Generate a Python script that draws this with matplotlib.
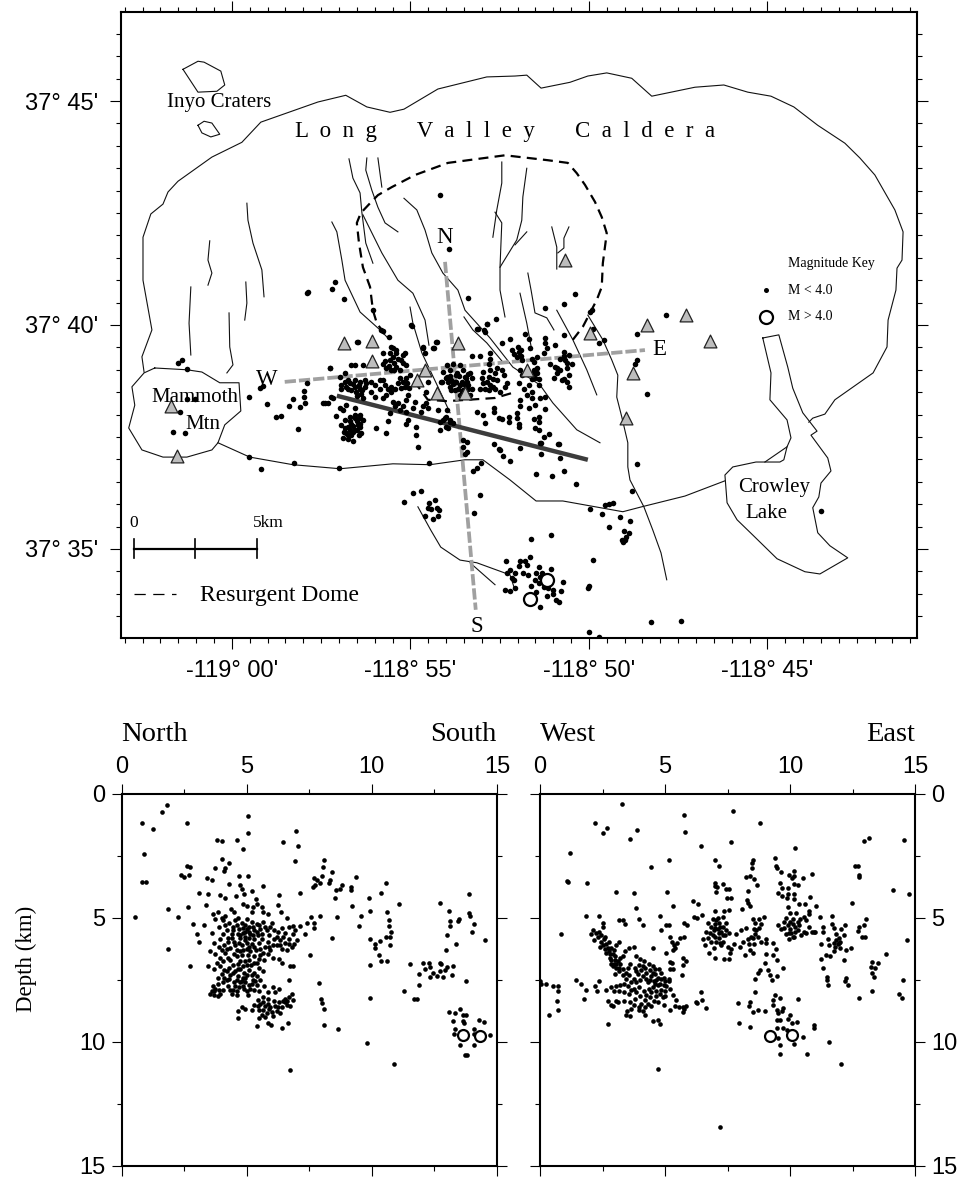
import numpy as np
import matplotlib
matplotlib.use("Agg")
import matplotlib.pyplot as plt
from matplotlib.ticker import MultipleLocator

# map units are minutes: x = minutes east of -119 deg, y = minutes north of 37 deg
SERIF = "Liberation Serif"
SANS = "Liberation Sans"

caldera = [(-2.46,38.95),(-2.52,39.29),(-2.24,39.89),(-2.49,41.0),(-2.49,41.96),(-2.27,42.48),(-1.93,42.7),(-1.79,42.97),
    (-1.51,43.21),(-.56,43.75),(.28,44.08),(.81,44.53),(2.41,44.98),(3.19,45.13),(3.78,44.87),(4.43,44.75),(4.82,44.82),
    (5.77,45.27),(7.14,45.54),(7.93,45.56),(8.26,45.58),(8.66,45.29),(9.47,45.42),(9.97,45.56),(10.5,45.63),(11.2,45.51),
    (11.76,45.11),(12.97,45.31),(13.78,45.36),(14.45,45.2),(15.1,45.11),(15.74,44.87),(16.41,44.46),(17.17,44.06),
    (17.59,43.73),(18.01,43.35),(18.57,42.57),(18.8,42.08),(18.77,41.45),(18.63,41.27),(18.6,40.78),(18.38,40.11),
    (18.35,39.51),(17.96,38.93),(16.89,38.33),(16.61,38.01),(16.27,37.92),(16.16,37.83)]
caldera_south = [(-.39,37.37),(.5,37.05),(1.71,36.88),(3.03,36.79),(4.51,36.9),(5.55,36.88),(6.53,36.99),(7.03,36.99),
    (7.79,36.54),(8.52,36.07),(9.27,36.07),(10.95,35.83),(11.48,35.94),(12.69,36.18),(13.81,36.52)]
lake = [(14.87,39.71),(15.32,39.78),(15.57,39.06),(15.71,38.59),(15.99,38.04),(16.39,37.63),(16.22,37.54),(16.69,37.03),
    (16.78,36.74),(16.5,36.47),(16.44,36.16),(16.27,35.92),(16.41,35.36),(16.75,35.07),(17.25,34.8),(16.47,34.44),
    (16.05,34.49),(15.27,34.78),(14.59,35.31),(14.15,35.65),(13.87,36.03),(13.81,36.65),(14.03,36.83),(14.68,36.94),
    (15.35,36.94),(15.46,36.99),(15.55,37.28),(15.66,37.48),(15.55,37.88),(15.07,38.33),(15.1,38.93),(14.87,39.71)]
lake_spur = [(14.93,36.94),(15.55,37.28)]
mammoth = [(-2.16,39.04),(-1.26,39.0),(-.84,38.95),(-.34,38.71),(.2,38.71),(.25,38.08),(-.2,37.77),(-.39,37.37),(-.56,37.21),
    (-1.26,37.05),(-1.93,37.05),(-2.52,37.21),(-2.89,37.7),(-2.72,38.21),(-2.8,38.62),(-2.46,38.93),(-2.16,39.04)]
inyo_big = [(-1.37,45.71),(-.95,45.89),(-.78,45.87),(-.31,45.67),(-.2,45.36),(-.42,45.22),(-.95,45.2),(-1.37,45.71)]
inyo_small = [(-.95,44.46),(-.78,44.55),(-.56,44.51),(-.34,44.26),(-.59,44.2),(-.84,44.29),(-.95,44.46)]

dome_north = [(9.55,39.67),(9.83,39.96),(10.22,40.56),(10.36,40.85),(10.39,41.38),(10.5,42.05),(10.36,42.41),(10.17,42.75),
    (9.89,43.13),(9.66,43.39),(9.41,43.62),(8.85,43.68),(7.65,43.79),(6.05,43.62),(5.13,43.35),(4.48,43.08),(4.09,42.9),
    (3.87,42.72),(3.61,42.5),(3.5,42.28),(3.56,41.83),(3.67,41.29),(3.87,40.85),(3.95,40.33),(4.06,40.04),(4.34,39.73)]
dome_south = [(5.1,38.75),(5.49,38.33),(6.02,38.3),(7.37,38.37),(7.84,38.48)]

faults = [
    [(2.8,42.3),(2.94,42.08),(3.08,41.45),(3.17,41.0),(3.59,40.29),(4.15,39.89),(4.37,39.71)],
    [(3.28,43.71),(3.39,43.28),(3.59,42.95),(3.64,42.52),(3.75,41.83),(3.95,41.38)],
    [(3.67,42.46),(4.2,41.61),(4.65,41.0),(5.07,40.71),(5.41,40.11),(5.52,39.55)],
    [(3.78,43.73),(3.75,43.46),(3.92,43.01),(4.09,42.63),(4.29,42.28),(4.65,42.08)],
    [(4.09,43.73),(4.2,43.08)],
    [(4.82,42.83),(5.18,42.57),(5.41,42.12),(5.6,41.61),(5.91,41.16),(6.33,40.78),(6.53,40.33),(7.23,39.71),(7.87,39.06),
     (8.63,38.66),(8.99,38.26),(9.66,37.66),(10.31,37.37)],
    [(4.99,40.4),(5.07,40.04),(5.32,39.38),(5.77,38.62),(6.11,38.04)],
    [(6.5,40.18),(6.75,39.89),(7.14,39.6),(7.59,39.17)],
    [(7.56,43.64),(7.56,43.17),(7.42,42.57),(7.31,41.96)],
    [(7.37,42.52),(7.56,42.28),(7.51,41.29),(7.51,40.78),(7.65,40.18)],
    [(8.26,43.5),(8.15,42.86),(8.12,42.34),(7.98,41.9),(7.51,41.29)],
    [(8.26,42.08),(7.93,41.79)],
    [(8.29,41.16),(8.38,40.78),(8.49,40.27),(8.82,40.16),(9.02,39.89)],
    [(8.07,40.71),(8.26,40.04),(8.4,39.44)],
    [(8.96,42.19),(9.1,41.74),(9.1,41.25)],
    [(9.44,42.19),(9.3,41.94),(9.3,41.72),(9.13,41.61)],
    [(9.1,40.33),(9.55,39.67),(9.94,39.0),(10.22,38.44)],
    [(9.97,40.22),(10.39,39.67),(10.64,39.22),(10.81,38.88),(10.78,38.39),(10.92,37.95),(11.09,37.37),(11.09,36.83),
     (11.15,36.54),(11.54,35.94),(11.79,35.42),(12.02,34.91),(12.18,34.31)],
    [(.42,42.72),(.45,42.34),(.59,41.83),(.84,41.23),(.9,40.63)],
    [(-.08,40.27),(-.06,39.51),(.03,39.11),(-.14,38.93)],
    [(.39,40.96),(.42,40.49),(.36,40.11)],
    [(-1.15,40.85),(-1.2,40.04),(-1.15,39.33)],
    [(-.62,41.88),(-.67,41.45),(-.56,41.16),(-.67,40.89)],
    [(5.21,35.94),(5.57,35.42),(5.85,35.04),(6.39,34.75),(6.86,34.69),(7.79,34.42),(7.9,34.15)],
    [(6.67,34.69),(7.37,34.2)],
]

line_we = [(1.48,38.73),(11.57,39.44)]
line_ns = [(5.97,41.41),(6.83,33.64)]
line_fault = [(2.94,38.42),(9.97,36.99)]

stations = [(3.13,39.6),(3.92,39.64),(3.92,39.2),(-1.71,38.2),(-1.54,37.07),(5.41,39.0),(5.18,38.78),(5.74,38.48),(6.33,39.6),
    (6.53,38.48),(8.26,39.0),(10.03,39.82),(11.62,40.0),(12.72,40.22),(13.39,39.64),(11.23,38.93),(11.04,37.93),(9.33,41.45)]

events_west = [(2.1,40.71),(2.14,40.74),(2.8,40.8),(2.89,40.96),(3.13,40.58),(-1.51,39.15),(-1.4,39.22),(-1.26,39.02),(-1.26,38.35),
    (-1.04,38.35),(-1.46,38.06),(-1.65,37.61),(-1.32,37.59),(.48,38.39),(.78,38.59),(.87,38.64),(.98,38.24),(1.6,38.19),(1.71,38.35),
    (1.9,38.17),(2.04,38.26),(2.02,38.39),(2.02,38.53),(2.1,38.7),(1.23,37.95),(1.37,37.97),(1.85,37.68),(2.75,39.04),(2.55,38.26),
    (2.69,38.26),(2.77,38.39),(.48,37.05),(.81,36.78),(1.74,36.92),(3.0,36.81),(5.52,36.92),(3.5,39.62),(5.04,39.97),(5.74,39.62),
    (5.66,39.49),(5.35,39.49),(4.23,39.87),(3.95,40.33),(5.83,42.9),(6.08,41.7)]
events_central = [(3.54,39.63),(2.74,39.05),(3.35,39.11),(3.44,39.11),(3.68,39.11),(3.91,39.14),(3.02,38.84),(3.16,38.92),
    (3.07,38.66),(3.16,38.73),(3.3,38.7),(3.44,38.77),(3.58,38.73),(3.72,38.77),(3.07,38.58),(3.26,38.58),(3.44,38.62),(3.58,38.58),
    (3.72,38.62),(3.49,38.51),(3.63,38.47),(3.68,38.36),(3.91,38.73),(4.0,38.66),(3.91,38.51),(4.0,38.4),(4.24,39.37),(4.42,39.37),
    (4.52,39.48),(4.61,39.37),(4.84,39.37),(4.75,39.22),(4.87,39.11),(4.42,39.22),(4.24,39.14),(4.33,39.03),(4.47,38.99),(4.61,39.07),
    (4.7,38.99),(4.14,38.77),(4.24,38.77),(4.38,38.58),(4.47,38.51),(4.56,38.58),(4.24,38.36),(4.33,38.44),(4.14,38.58),(4.66,38.7),
    (4.8,38.73),(4.89,38.81),(4.98,38.88),(4.7,38.81),(4.84,38.62),(4.94,38.44),(4.89,38.32),(5.12,38.29),(4.52,38.29),(4.66,38.25),
    (4.8,38.18),(4.56,38.18),(4.7,38.1),(4.89,38.06),(5.08,38.14),(5.36,38.18),(5.5,38.14),(5.45,38.25),(5.31,38.06),
    (2.93,37.97),(3.07,37.77),(3.16,37.88),(3.3,37.95),(3.44,38.14),(3.35,37.8),(3.44,37.92),(3.58,37.99),(3.68,37.88),(3.54,37.77),
    (3.3,37.65),(3.21,37.58),(3.44,37.65),(3.58,37.73),(3.16,37.69),(3.35,37.54),(3.11,37.47),(3.63,37.58),(3.02,38.14),(3.11,38.1),
    (3.21,38.21),(2.83,38.36),(2.6,38.25),(4.03,37.71),(4.31,37.58),(4.38,37.86),(4.42,38.03),(5.17,37.73),(5.17,37.54),(4.87,37.79),
    (4.94,37.88),(5.22,37.28),(5.92,37.88),(6.01,37.95),(6.11,37.84),(5.78,38.1),(6.01,37.73),(5.45,38.51),(5.5,38.73),(5.87,38.73),
    (6.01,38.81),(6.15,38.77),(6.29,38.73),(6.29,38.88),(6.53,38.66),(6.57,38.81),(6.48,38.55),(6.62,38.58),(6.25,38.55),(6.39,38.44),
    (5.36,39.51),(5.64,39.48),(5.4,39.37),(5.73,39.63),(5.03,40.0),(4.19,39.89),(4.4,39.74),(4.47,39.51),(4.61,39.44),(4.8,39.33)]
events_dense = [(3.2,38.62),(3.35,38.55),(3.55,38.65),(3.65,38.55),(3.5,38.42),(3.75,38.7),(3.25,38.77),(3.4,38.68),(3.25,37.72),(3.4,37.75),
    (3.5,37.65),(3.3,37.85),(3.5,37.85),(3.6,37.8),(3.25,37.55),(3.4,37.6),(3.55,37.55),(3.25,37.45),(3.4,37.42),(3.15,37.6),(3.45,38.0),(3.6,37.92),
    (4.3,39.2),(4.5,39.28),(4.55,39.15),(4.65,39.25),(4.8,39.15),(4.4,39.08),(4.55,39.0),(4.3,38.65),(4.45,38.62),(4.75,38.6),(4.9,38.7),(4.95,38.6),
    (6.1,38.85),(6.2,38.68),(6.35,38.85),(6.4,38.65),(6.58,38.72),(6.05,38.72),(6.15,38.55),(6.45,38.5),(6.6,38.9),(7.15,38.72),(7.3,38.8),(7.1,38.58),
    (7.3,38.62),(8.45,39.0),(8.55,38.92),(8.4,38.8),(8.6,38.8),(9.3,39.3),(9.2,39.25),(9.4,39.15),(9.1,39.05),(9.3,38.8),(8.1,39.3),(7.9,39.35),(8.0,39.5),(8.1,39.45)]
events_east = [(7.14,40.02),(6.86,39.92),(7.09,39.85),(7.79,39.68),(7.56,39.59),(8.21,39.81),(8.31,39.68),(8.35,39.48),(8.77,39.7),
    (8.77,39.6),(9.05,39.55),(9.29,39.78),(6.72,39.31),(6.95,39.31),(7.23,39.37),(7.23,39.25),(7.19,39.14),(7.84,39.44),(8.03,39.4),
    (7.98,39.29),(8.12,39.22),(8.4,39.25),(8.45,39.18),(8.82,39.48),(8.73,39.37),(8.54,39.29),(9.29,39.4),(9.43,39.33),(9.33,39.22),
    (9.52,39.14),(8.91,39.14),(9.05,39.07),(9.19,38.99),(9.38,39.03),(9.1,38.92),(9.01,38.81),(9.24,38.77),(9.43,38.88),(9.38,38.73),
    (9.43,38.62),(8.07,38.99),(8.12,38.88),(8.54,39.03),(8.45,38.92),(8.49,38.81),(8.31,38.66),(8.17,38.58),(8.59,38.66),(8.4,38.51),
    (8.26,38.44),(8.4,38.36),(8.03,38.7),(8.63,38.36),(8.77,38.4),(8.07,38.32),(8.07,38.18),(8.31,38.14),(8.49,38.21),(8.77,38.12),
    (8.45,37.9),(8.59,37.94),(8.59,37.84),(8.49,37.69),(8.59,37.65),(8.87,37.57),(8.73,37.49),(8.63,37.37),(9.15,37.34),
    (7.04,38.96),(7.23,38.99),(7.42,39.03),(7.56,38.99),(7.0,38.81),(7.19,38.84),(7.37,38.92),(7.61,38.88),(7.04,38.7),(7.23,38.66),
    (7.42,38.77),(6.95,38.58),(7.19,38.55),(7.37,38.58),(7.51,38.51),(7.7,38.7),(7.65,38.62),(6.86,38.05),(7.04,37.99),(7.09,37.82),
    (7.33,38.14),(7.33,38.06),(7.47,37.92),(7.56,37.9),(7.75,37.95),(7.75,37.84),(7.98,38.03),(7.98,37.92),(8.03,37.8),(8.05,37.73),
    (6.02,39.11),(6.2,39.14),(6.39,39.11),(6.48,38.99),(6.67,38.92),(5.92,38.96),(6.11,38.99),(6.3,38.92),(6.53,38.84),(6.72,38.81),
    (6.02,38.84),(6.25,38.73),(6.44,38.73),(6.62,38.66),(5.88,38.73),(6.11,38.62),(6.34,38.58),(6.53,38.55),(6.72,38.58),(6.67,38.44),
    (6.02,38.1),(5.97,37.92),(5.83,37.84),(6.11,37.88),(6.2,37.82),(6.06,37.69),(5.83,37.65),(6.48,37.43),(6.48,37.28)]
events_edge = [(9.6,40.7),(9.3,40.46),(8.76,40.37),(10.02,40.29),(10.1,40.33),(10.11,39.9),(10.27,39.6),(10.41,39.66),(6.61,40.61),
    (7.4,40.13),(7.14,40.02),(6.89,39.9),(7.07,39.88),(12.16,40.22),(11.34,39.79),(11.34,39.21),(11.3,39.14),(11.64,38.46),(11.36,36.89),
    (8.53,36.68),(8.98,36.62),(9.29,36.74),(9.14,37.34),(9.19,37.03),(8.66,37.12),(8.66,37.37),(8.08,37.26),(7.79,36.96),(7.58,37.08),
    (7.47,37.24),(7.51,37.2),(7.33,37.35),(6.58,37.39),(6.58,37.17),(6.53,37.13),(6.86,36.8),(6.76,36.74),(6.97,36.92),(16.5,35.85)]
events_south = [(4.83,36.04),(5.08,36.24),(5.3,36.3),(5.69,36.09),(5.53,36.02),(5.48,35.91),(5.58,35.89),(5.8,35.86),(5.75,35.91),
    (5.78,35.74),(5.62,35.66),(5.4,35.74),(6.95,36.2),(6.79,35.81),(9.64,36.45),(11.2,36.3),(10.03,35.89),(10.38,35.78),(10.46,35.98),
    (10.57,36.0),(10.68,36.03),(10.87,35.72),(11.14,35.62),(10.57,35.5),(10.97,35.41),(11.11,35.35),(11.05,35.26),(11.0,35.2),(10.95,35.15),
    (10.93,35.2),(10.11,34.75),(10.0,34.17),(9.98,34.12),(10.0,33.15),(8.37,35.22),(8.93,35.31),(7.68,34.72),(8.07,34.74),(8.21,34.72),
    (8.35,34.83),(8.26,34.64),(8.05,34.61),(7.78,34.52),(7.71,34.46),(7.94,34.47),(8.16,34.46),(8.29,34.42),(8.59,34.59),(8.93,34.55),
    (8.53,34.46),(8.69,34.46),(8.64,34.38),(8.48,34.31),(8.59,34.23),(8.75,34.16),(8.37,34.17),(7.84,34.35),(7.89,34.31),(7.65,34.08),
    (7.78,34.06),(7.94,34.12),(8.53,34.03),(8.82,33.95),(8.99,34.0),(8.99,34.08),(9.21,34.05),(9.28,34.26),(9.08,33.85),(9.15,33.82),
    (8.64,33.71),(8.86,34.12),(11.75,33.36),(12.57,33.38),(10.28,33.03)]
big_events = [(8.82,34.31),(8.35,33.88)]

ns_scatter = [(1.83,.43),(1.61,.73),(.81,1.17),(1.27,1.4),(2.63,1.18),(.91,2.4),(.81,3.55),(.96,3.53),(.52,4.95),(1.87,4.64),(1.87,6.27),
    (2.73,6.94),(2.27,4.94),(2.64,4.55),(2.84,5.25),(3.03,5.64),(3.09,5.95),(3.31,5.28),(3.37,4.47),(3.11,3.98),(3.47,4.04),(2.36,3.26),
    (2.51,3.34),(2.69,3.26),(2.63,2.92),(2.73,2.95),(3.43,3.39),(3.6,3.45),(3.73,2.99),(4.0,2.62),(4.09,3.12),(4.31,2.79),(4.13,2.99),
    (3.83,1.87),(4.0,1.91),(4.63,1.84),(5.07,.87),(5.07,1.57),(4.84,2.21),(6.44,1.94),(6.99,1.48),(7.05,2.11),(6.92,2.69),(4.69,3.32),
    (4.73,3.66),(5.07,3.31),(4.8,3.84),(4.89,4.04),(5.2,3.93),(5.64,3.7),(4.29,3.63),(3.93,4.06),(4.13,4.2),(4.57,4.13),(5.37,4.24),
    (6.29,4.06),(6.24,4.47),(7.15,4.0),(6.37,4.76),(6.6,5.01),(5.6,4.54),(5.27,4.54),(8.07,2.68),(8.04,2.95),(8.4,3.14),(8.33,3.46),
    (7.67,3.39),(7.8,3.46),(7.63,3.77),(7.73,3.66),(7.93,3.59),(8.0,3.32),(8.29,3.57),(8.56,3.86),(8.71,3.84),(8.81,3.66),(8.53,4.21),
    (9.17,3.76),(9.16,3.89),(9.36,3.36),(9.2,4.51),(8.6,4.95),(7.93,4.9),(9.57,4.91),(9.48,5.32),(9.87,4.2),(9.93,4.7),(10.36,3.98),
    (10.56,3.59),(10.6,4.74),(11.08,4.44),(10.69,5.07),(10.67,5.32),(10.76,5.55),(10.73,5.75),(10.56,5.75),(10.71,6.08),(9.93,5.83),
    (10.13,6.04),(10.31,5.92),(10.13,6.22),(10.27,6.49),(10.37,6.73),(10.6,6.73),(9.93,6.9),(8.4,5.81),(7.51,6.49),(7.4,5.21),(7.56,4.97),
    (7.67,5.21),(7.67,5.41),(7.35,5.64),(7.13,5.34),(6.87,5.32),(7.89,7.63),(7.96,8.28),(8.0,8.41),(8.09,8.65),(8.09,9.31),(8.63,9.48),
    (9.91,8.24),(9.8,10.03),(10.87,10.89),(6.72,11.13),(11.51,6.85),(12.04,6.82),(12.27,6.8),(12.13,7.05),(12.31,6.99),(12.73,6.8),
    (12.77,6.87),(13.0,6.96),(13.24,6.93),(11.87,7.24),(12.43,7.23),(12.33,7.39),(12.6,7.34),(12.84,7.36),(12.73,7.12),(12.93,7.09),
    (13.2,7.29),(11.89,7.7),(11.29,7.95),(11.67,8.26),(11.8,8.26),(13.77,7.54),(12.73,4.4),(13.09,4.71),(13.87,4.05),(13.87,4.8),
    (13.91,4.91),(13.13,5.11),(13.13,5.34),(13.43,5.14),(13.49,5.05),(14.09,5.24),(13.99,5.57),(13.0,5.69),(13.35,6.06),(12.96,6.31),
    (14.52,5.88),(13.07,8.78),(13.33,8.84),(13.53,8.68),(13.63,8.91),(13.77,8.91),(13.23,9.14),(13.63,9.14),(13.69,9.25),(14.27,9.11),
    (14.47,9.21),(13.33,9.49),(13.27,9.68),(14.07,9.49),(14.07,9.68),(14.71,9.72),(13.51,10.12),(14.09,10.12),(13.73,10.52),(13.8,10.52)]
ns_cluster = [(3.67,4.85),(3.87,4.75),(4.0,5.0),(4.13,4.9),(4.36,4.65),(4.5,4.75),(4.67,5.0),(4.87,4.45),(5.0,4.5),(5.2,4.75),(5.4,4.45),
    (5.67,4.75),(5.87,4.85),(6.0,5.2),(3.75,5.05),(3.9,5.35),(4.05,5.1),(4.2,5.5),(4.3,5.2),(4.45,5.35),(4.55,5.1),(4.68,5.45),(4.8,5.2),
    (4.92,5.55),(5.0,5.05),(5.08,5.35),(5.2,5.15),(5.3,5.5),(5.42,5.25),(5.55,5.45),(5.65,5.15),(5.8,5.5),(5.95,5.35),(6.1,5.5),(6.25,5.55),
    (6.4,5.4),(6.55,5.6),(6.7,5.35),(6.85,5.65),(6.95,5.5),(3.6,5.6),(4.05,5.65),(4.4,5.65),(4.75,5.7),(5.15,5.65),(5.45,5.7),(5.0,5.45),
    (4.85,5.6),(3.7,6.0),(3.95,5.85),(4.1,6.1),(4.25,5.8),(4.35,6.2),(4.5,5.95),(4.6,6.3),(4.72,5.8),(4.8,6.1),(4.92,5.9),(5.02,6.25),
    (5.1,5.8),(5.2,6.05),(5.3,5.85),(5.38,6.3),(5.5,6.0),(5.6,5.85),(5.72,6.15),(5.85,5.95),(5.95,6.3),(6.08,5.85),(6.2,6.1),(6.32,5.9),
    (6.42,6.25),(6.55,6.0),(6.7,5.85),(6.8,6.15),(6.62,6.3),(7.0,5.9),(6.9,6.05),(5.0,6.0),(4.7,6.0),(4.4,5.8),(3.55,6.35),(3.75,6.45),
    (3.95,6.6),(4.15,6.4),(4.35,6.7),(4.5,6.45),(4.65,6.85),(4.8,6.5),(4.92,6.75),(5.05,6.5),(5.18,6.9),(5.3,6.55),(5.42,6.8),(5.55,6.5),
    (5.7,6.7),(5.85,6.45),(6.05,6.6),(6.3,6.65),(6.4,6.8),(6.72,6.95),(6.85,6.95),(3.45,6.95),(3.7,7.05),(3.95,6.95),(4.1,7.1),(4.3,7.0),
    (4.55,7.15),(4.75,7.05),(4.9,7.2),(5.1,7.1),(5.3,7.2),(5.5,7.0),(5.65,7.15),(3.85,7.4),(4.0,7.25),(4.2,7.5),(4.35,7.3),(4.5,7.6),
    (4.65,7.35),(4.8,7.55),(4.95,7.4),(5.1,7.7),(5.25,7.5),(5.4,7.7),(5.55,7.5),(5.7,7.75),(3.85,7.65),(4.05,7.6),(4.25,7.75),(4.45,7.9),
    (4.7,7.8),(4.85,7.75),(5.0,7.95),(5.3,7.9),(5.5,7.95),(5.85,8.0),(6.05,7.8),(6.15,8.0),(6.3,7.85),(6.7,7.5),(6.8,8.05),(3.6,7.95),
    (3.55,8.05),(3.7,8.1),(3.85,8.15),(3.95,8.05),(4.05,7.9),(3.75,7.85),(4.4,8.05),(4.6,8.1),(5.05,8.1),(5.45,8.3),(5.65,8.2),(5.85,8.25),
    (6.1,8.35),(6.3,8.4),(5.3,8.5),(5.55,8.45),(5.75,8.55),(5.95,8.6),(6.15,8.55),(6.45,8.35),(6.55,8.25),(6.7,8.2),(6.85,8.3),(6.4,8.6),
    (6.6,8.5),(6.75,8.55),(4.8,8.6),(4.65,8.75),(4.95,8.65),(5.2,8.7),(5.5,8.7),(5.8,8.85),(6.0,8.8),(6.05,8.95),(6.35,8.85),(4.65,9.05),
    (5.4,9.35),(5.85,9.25),(5.98,9.3),(6.4,9.45),(6.65,9.25),
    (4.15,5.3),(4.6,5.3),(4.95,5.3),(5.25,5.35),(5.5,5.3),(5.75,5.35),(4.45,5.5),(4.85,5.4),(5.1,5.55),(5.4,5.55),(4.25,5.95),(4.55,6.1),
    (4.85,6.3),(5.1,6.15),(5.3,6.15),(5.55,6.25),(4.65,5.65),(4.95,5.75),(5.25,5.7),(5.6,5.65),(5.9,5.7),(6.2,5.75),(6.45,5.75),(6.35,6.1),
    (6.7,6.05),(6.05,6.1),(3.9,6.15),(4.0,6.3),(4.2,6.25),(4.75,6.35),(5.15,6.35),(5.65,6.4),(5.9,6.15),(4.05,6.75),(4.25,6.6),(4.6,6.55),
    (4.75,6.75),(5.1,6.7),(5.3,6.8),(5.5,6.65),(3.8,6.8),(4.45,6.9),(4.85,6.95),(5.0,6.9),(4.2,7.15),(4.45,7.2),(4.65,7.05),(5.0,7.3),
    (5.2,7.3),(5.4,7.35),(4.1,7.4),(4.3,7.45),(4.6,7.5),(4.85,7.4),(4.75,7.6),(4.95,7.6),(5.2,7.65),(5.35,7.55),(4.55,7.75),(4.35,7.9),
    (4.6,7.95),(4.9,7.85),(5.15,7.85),(3.65,7.75),(3.7,7.95),(3.9,7.9),(5.65,8.4),(5.85,8.45),(6.25,8.6),(5.45,8.55),(5.65,8.7),(5.9,8.65),
    (6.2,8.75),(6.55,8.4),(6.6,8.35),(5.6,8.9),(5.75,9.0),(5.5,9.05)]
ns_big = [(13.64,9.73),(14.33,9.76)]

we_scatter = [(3.27,.42),(2.2,1.17),(2.67,1.39),(2.51,1.59),(3.87,1.47),(3.6,1.83),(5.75,.86),(5.8,1.53),(6.45,2.11),(7.73,.7),(7.65,1.92),
    (8.81,1.18),(10.19,2.18),(1.2,2.38),(1.07,3.5),(1.11,3.54),(1.87,3.57),(3.05,3.96),(3.77,4.0),(4.44,2.95),(5.17,2.68),(5.09,3.97),
    (3.84,4.6),(5.32,4.51),(1.85,4.91),(2.35,4.93),(.83,5.64),(4.8,4.9),(3.97,5.05),(4.11,5.29),(3.16,5.09),(3.31,5.1),(3.41,5.24),(2.53,5.21),
    (6.13,4.31),(6.33,4.43),(6.17,4.94),(6.27,5.01),(6.48,4.86),(5.75,5.2),(5.89,5.28),(5.03,5.3),(5.16,5.28),(4.84,5.48),(5.19,5.75),(5.6,5.79),
    (5.77,5.75),(5.27,5.95),(5.37,6.08),(5.47,6.02),(5.4,6.22),(5.33,6.29),(5.03,6.42),(4.53,6.2),(5.2,6.76),(5.27,6.82),(5.73,6.62),(5.83,6.73),
    (5.71,6.89),(5.2,7.05),(5.33,7.05),(5.69,7.3),(5.16,7.56),(7.0,2.65),(7.15,2.89),(6.99,3.59),(7.09,3.75),(7.0,3.72),(7.33,3.62),(7.44,3.84),
    (7.57,3.84),(7.04,3.97),(7.49,4.19),(7.63,4.19),(7.0,4.7),(7.37,4.71),(7.57,4.67),(8.53,2.68),(8.49,2.79),(8.47,3.0),(8.23,3.36),(8.4,3.32),
    (8.57,3.43),(8.67,3.67),(8.33,3.93),(8.27,4.27),(8.33,4.4),(8.07,4.64),(8.4,4.51),(9.4,2.58),(9.44,2.92),(9.49,2.99),(9.64,3.14),(9.97,3.26),
    (10.07,3.39),(10.17,3.12),(10.16,3.3),(10.53,3.39),(10.87,3.24),(10.31,3.66),(10.16,3.62),(9.6,3.6),(9.67,3.8),(9.93,3.8),(9.53,4.0),(9.67,4.13),
    (9.87,4.2),(10.16,4.03),(12.96,1.9),(13.15,1.79),(14.56,1.86),(12.6,2.92),(12.73,2.92),(12.77,3.26),(12.76,3.36),(14.12,3.86),(14.77,4.04),
    (12.48,4.4),(13.03,5.05),(12.97,5.3),(12.77,5.38),(12.71,5.52),(12.87,5.75),(13.0,5.75),(14.67,5.88),(13.83,6.45),(13.27,6.76),(13.53,6.82),
    (13.23,6.96),(13.4,7.03),(13.27,7.23),(13.36,7.36),(12.77,8.24),(13.27,7.93),(14.51,7.5),(14.36,8.06),(14.47,8.24),(8.6,7.47),(8.73,7.2),
    (9.04,6.45),(9.0,6.82),(8.8,7.09),(9.13,7.09),(9.2,7.29),(9.27,7.5),(9.47,7.32),(9.73,7.03),(9.47,6.69),(9.33,6.49),(8.6,7.99),(7.93,8.41),
    (8.4,8.37),(8.37,8.55),(8.51,8.78),(8.73,8.71),(9.0,8.73),(7.97,9.25),(8.4,9.41),(9.4,8.1),(9.33,8.3),(9.6,8.24),(9.33,8.5),(9.47,8.71),
    (9.73,8.64),(9.53,8.84),(9.67,8.77),(10.0,8.91),(9.47,9.11),(9.6,9.11),(9.93,9.09),(10.07,9.25),(10.27,9.21),(10.33,8.25),(9.49,9.45),
    (9.73,9.45),(9.87,9.51),(9.53,9.85),(9.59,10.12),(10.17,10.09),(10.51,9.78),(9.59,10.5),(10.67,10.5),(10.95,9.31),(10.97,9.45),(11.55,10.01),
    (12.04,10.87),(6.44,7.97),(6.27,8.41),(6.47,8.3),(6.23,8.4),(6.63,8.61),(5.57,8.6),(5.73,8.6),(5.73,8.78),(5.2,8.7),(10.63,5.59),(10.87,5.55),
    (10.96,5.55),(11.04,4.51),(10.8,4.17),(10.77,4.7),(10.77,4.85),(11.2,4.97),(11.68,4.91),(11.68,5.24),(11.33,5.37),(11.47,7.36),(11.47,7.5),
    (11.51,7.7),(4.73,11.1),(2.72,9.27),(7.2,13.42),(0,7.55),(.05,7.65),(.25,7.65),(.5,7.75),(.7,7.75),(.7,7.95),(.66,8.35),(.73,8.7),(.35,8.9),
    (1.45,7.5),(1.63,7.65),(1.83,7.9),(1.77,8.25),(2.35,7.55),(2.2,7.75),(2.27,7.95),(2.65,7.9),(2.73,8.35),(2.83,8.5),(3.05,8.35)]
we_cluster = [(2.1,5.5),(2.05,5.65),(2.3,5.75),(2.15,5.9),(2.45,5.95),(2.35,5.55),(2.5,5.35),(2.55,5.85),(2.65,6.05),(2.4,6.15),(2.75,5.95),
    (2.85,6.2),(2.6,6.25),(2.8,6.45),(2.95,6.3),(3.05,6.1),(3.15,5.95),(3.0,6.55),(2.85,6.7),(3.1,6.75),(2.9,6.95),(3.05,7.0),(3.2,6.85),
    (3.3,7.05),(3.15,7.15),(3.0,7.25),(2.95,6.85),(3.3,6.55),(3.4,6.35),(3.55,6.2),(3.75,6.15),(3.6,6.85),(3.5,7.0),(3.85,6.55),(4.0,6.65),
    (4.15,6.75),(3.95,6.9),(4.2,7.0),(4.35,6.85),(4.5,6.95),(4.4,7.1),(4.6,7.25),(4.75,7.05),(4.7,7.4),(4.85,7.2),(4.95,7.4),(5.0,7.55),(5.15,7.45),
    (4.45,7.35),(4.55,7.55),(4.3,7.6),(4.1,7.35),(3.9,7.25),(3.75,7.45),(3.65,7.6),(3.45,7.45),(3.35,7.65),(3.2,7.7),(3.05,7.75),(2.85,7.8),
    (2.95,7.95),(3.15,7.95),(3.35,8.0),(3.55,8.05),(3.75,7.85),(3.95,7.8),(4.15,7.95),(4.35,7.85),(4.5,7.8),(4.7,7.7),(4.85,7.9),(5.0,7.95),
    (5.2,7.85),(4.9,8.2),(4.65,8.15),(4.4,8.2),(4.2,8.3),(4.0,8.15),(3.8,8.25),(3.6,8.4),(3.35,8.35),(3.1,8.4),(2.9,8.55),(3.65,8.65),(3.95,8.6),
    (4.2,8.6),(4.45,8.55),(4.7,8.4),(4.95,8.5),(5.3,8.1),(5.45,8.3),(5.4,8.55),(5.85,8.55),(5.75,8.65),(4.1,8.75),(3.45,8.9),(3.47,8.75),(3.6,8.95),
    (3.95,8.7),(4.2,8.9),(4.5,9.15),(4.7,9.1),(4.8,9.28),(6.7,5.2),(6.9,5.05),(7.1,5.0),(7.3,4.95),(7.45,5.2),(6.85,5.35),(7.0,5.25),(7.15,5.2),
    (7.3,5.35),(7.45,5.5),(6.65,5.55),(6.8,5.6),(6.95,5.5),(7.1,5.45),(7.25,5.55),(7.4,5.7),(6.5,5.85),(6.7,5.8),(6.85,5.95),(7.0,5.75),(7.15,5.8),
    (7.3,5.95),(7.55,5.6),(6.6,6.1),(6.95,6.2),(7.25,6.1),(6.75,6.4),(7.0,6.6),(7.35,6.65),(7.6,6.4),(7.65,6.25),(7.75,6.05),(7.5,6.15),(7.55,6.65),
    (7.85,5.65),(8.05,5.5),(8.25,5.4),(8.3,5.85),(8.1,5.95),(8.0,6.15),(8.35,6.05),(8.45,5.75),(8.55,5.45),(8.6,5.2),(8.75,5.05),(8.85,5.25),
    (8.95,4.95),(8.5,5.05),(8.65,5.5),(8.7,5.75),(8.85,5.95),(8.55,6.05),(8.4,6.3),(8.2,6.5),(9.05,5.85),(9.3,6.0),(9.45,6.25),(9.05,6.0),(8.5,6.4),
    (9.5,5.3),(9.65,5.45),(9.75,5.15),(9.9,5.3),(9.85,5.0),(10.0,4.8),(9.9,4.55),(10.1,5.05),(10.2,5.35),(10.3,5.5),(10.05,5.6),(9.85,5.65),
    (9.95,5.85),(10.15,5.75),(10.35,5.3),(10.45,5.7),(10.55,5.55),(10.25,4.8),(10.4,5.05),(10.55,4.95),(10.65,5.1),(10.75,5.35),(10.6,4.45),
    (10.15,4.25),(10.35,4.45),(9.9,4.05),(11.0,5.55),(11.3,5.55),(11.75,5.4),(12.05,5.45),(12.2,5.3),(11.5,5.85),(11.55,6.1),(11.25,6.05),
    (11.75,6.0),(11.85,5.9),(11.95,5.8),(12.15,5.7),(12.0,6.2),(11.9,6.05),(11.75,6.35),(12.25,6.3),(12.45,6.2),(12.15,6.7),(11.25,6.65),
    (11.45,6.5),(11.6,6.55),(11.3,7.0),(12.25,7.4),(12.3,7.7),(12.2,7.55),
    (2.25,5.6),(2.45,5.7),(2.6,5.75),(2.5,6.1),(2.7,6.2),(2.75,6.35),(2.9,6.45),(2.65,6.4),(2.8,6.6),(3.0,6.7),(2.85,6.85),(3.05,6.85),(3.15,7.0),
    (3.2,6.6),(3.45,7.2),(3.3,7.3),(3.55,7.3),(3.8,7.0),(3.85,7.15),(4.05,7.1),(4.1,6.95),(4.25,7.2),(4.5,7.2),(4.6,7.05),(4.65,7.5),(4.85,7.45),
    (4.8,7.65),(4.95,7.7),(5.05,7.75),(4.6,7.65),(4.4,7.5),(4.25,7.45),(4.0,7.5),(3.85,7.6),(3.5,7.75),(3.65,7.9),(3.85,8.0),(4.25,8.1),(4.45,8.0),
    (4.65,7.95),(4.8,8.05),(5.0,8.15),(4.55,8.35),(4.3,8.45),(4.05,8.45),(3.75,8.5),(7.05,5.1),(7.2,5.35),(7.15,5.6),(7.3,5.7),(7.05,5.95),(7.2,6.0),
    (7.0,5.4),(6.9,5.7),(10.0,5.15),(10.1,5.25),(10.0,5.45),(10.2,5.55),(10.1,5.75),(9.75,5.4),(9.95,5.6),(10.3,5.15),(8.6,5.65),(8.75,5.4),(8.5,5.8),
    (11.85,5.65),(11.95,6.0),(12.0,5.95),(11.8,6.15)]
we_big = [(9.2,9.74),(10.07,9.72)]

map_xticks = [0, 5, 10, 15]
map_xlabels = ["-119\u00b0 00'", "-118\u00b0 55'", "-118\u00b0 50'", "-118\u00b0 45'"]
map_yticks = [35, 40, 45]
map_ylabels = ["37\u00b0 35'", "37\u00b0 40'", "37\u00b0 45'"]
long_valley = "L  o  n  g       V  a  l  l  e  y       C  a  l  d  e  r  a"


def px_axes(fig, left, top, right, bottom):
    W, H = 961.0, 1178.0
    return fig.add_axes([left / W, 1 - bottom / H, (right - left) / W, (bottom - top) / H])


def line(ax, pts, **kw):
    a = np.array(pts)
    ax.plot(a[:, 0], a[:, 1], **kw)


def dots(ax, pts, s):
    a = np.array(pts)
    ax.scatter(a[:, 0], a[:, 1], s=s, c="black", linewidths=0, zorder=5)


def rings(ax, pts, s=88):
    a = np.array(pts)
    ax.scatter(a[:, 0], a[:, 1], s=s, facecolors="white", edgecolors="black", linewidths=1.6, zorder=6)


def depth_panel(ax, scatter_pts, cluster_pts, big_pts, left_name, right_name):
    dots(ax, scatter_pts, 11)
    dots(ax, cluster_pts, 11)
    rings(ax, big_pts, 62)
    ax.set_xlim(0, 15)
    ax.set_ylim(15, 0)
    ax.xaxis.set_major_locator(MultipleLocator(5))
    ax.xaxis.set_minor_locator(MultipleLocator(2.5))
    ax.yaxis.set_major_locator(MultipleLocator(5))
    ax.yaxis.set_minor_locator(MultipleLocator(2.5))
    ax.tick_params(which="both", top=True, bottom=True, left=True, right=True, width=0.8,
                   labeltop=True, labelbottom=False, labelsize=17)
    ax.tick_params(which="major", length=7.5, pad=4)
    ax.tick_params(which="minor", length=3.5)
    for s in ax.spines.values():
        s.set_linewidth(1.5)
    for lab in ax.get_xticklabels() + ax.get_yticklabels():
        lab.set_family(SANS)
    ax.text(0, 1.16, left_name, transform=ax.transAxes, ha="left", va="center", family=SERIF, fontsize=20.5)
    ax.text(1, 1.16, right_name, transform=ax.transAxes, ha="right", va="center", family=SERIF, fontsize=20.5)


fig = plt.figure(figsize=(9.61, 11.78), dpi=100)

ax = px_axes(fig, 120.5, 12, 917, 638)
thin = dict(color="#111111", lw=0.8, zorder=2)
for shape in [caldera, caldera_south, lake, lake_spur, mammoth, inyo_big, inyo_small]:
    line(ax, shape, **thin)
for f in faults:
    line(ax, f, **thin)
for d in [dome_north, dome_south]:
    line(ax, d, color="black", lw=1.6, dashes=(4.5, 2.8), zorder=3)
for l in [line_we, line_ns]:
    line(ax, l, color="#a0a0a0", lw=2.7, dashes=(3, 0.8), zorder=3)
line(ax, line_fault, color="#3c3c3c", lw=3.2, zorder=3, solid_capstyle="butt")

for ev in [events_west, events_central, events_dense, events_east, events_edge, events_south]:
    dots(ax, ev, 16)
rings(ax, big_events)
st = np.array(stations)
ax.scatter(st[:, 0], st[:, 1], marker="^", s=85, facecolors="#bdbdbd", edgecolors="#222222", linewidths=0.9, zorder=7)

ax.set_xlim(-3.12, 19.19)
ax.set_ylim(33.01, 46.99)
ax.set_xticks(map_xticks)
ax.set_xticklabels(map_xlabels, family=SANS, fontsize=17)
ax.set_yticks(map_yticks)
ax.set_yticklabels(map_ylabels, family=SANS, fontsize=17)
ax.xaxis.set_minor_locator(MultipleLocator(0.5))
ax.yaxis.set_minor_locator(MultipleLocator(0.5))
ax.tick_params(which="both", top=True, bottom=True, left=True, right=True, width=0.8)
ax.tick_params(which="major", length=8, pad=8)
ax.tick_params(which="minor", length=3.5)
for s in ax.spines.values():
    s.set_linewidth(1.5)


def label(x, y, txt, size=15, ha="center", **kw):
    ax.text(x, y, txt, family=SERIF, fontsize=size, ha=ha, va="center", zorder=8, **kw)


label(-1.82, 44.98, "Inyo Craters", ha="left")
label(7.65, 44.33, long_valley, size=16.5)
label(-1.04, 38.37, "Mammoth")
label(-.81, 37.77, "Mtn")
label(.98, 38.79, "W", size=16.5)
label(11.96, 39.46, "E", size=16.5)
label(5.97, 41.96, "N", size=16.5)
label(6.86, 33.26, "S", size=16.5)
label(15.18, 36.38, "Crowley")
label(14.96, 35.78, "Lake")
label(-.9, 33.97, "Resurgent Dome", size=17, ha="left")
label(-2.75, 35.58, "0", size=12.5)
label(1.01, 35.58, "5km", size=12.5)
label(15.57, 41.38, "Magnitude Key", size=10, ha="left")
label(15.57, 40.78, "M < 4.0", size=10, ha="left")
label(15.57, 40.18, "M > 4.0", size=10, ha="left")
dots(ax, [(14.96, 40.78)], 13)
rings(ax, [(14.96, 40.18)])

# scale bar and dome key
ax.plot([-2.75, .7], [35, 35], color="black", lw=1.6, zorder=4)
for xb in [-2.75, -1.02, .7]:
    ax.plot([xb, xb], [34.79, 35.21], color="black", lw=1.2, zorder=4)
ax.plot([-2.75, -1.57], [33.99, 33.99], color="black", lw=0.9, dashes=(9, 6), zorder=4)

ax_ns = px_axes(fig, 121.5, 794, 497, 1166)
depth_panel(ax_ns, ns_scatter, ns_cluster, ns_big, "North", "South")
ax_ns.text(-0.252, 0.556, "Depth (km)", transform=ax_ns.transAxes, family=SERIF, fontsize=16.5,
           rotation=90, ha="center", va="center")

ax_we = px_axes(fig, 540, 794, 915, 1166)
depth_panel(ax_we, we_scatter, we_cluster, we_big, "West", "East")
ax_we.tick_params(labelleft=False, labelright=True)
for lab in ax_we.get_yticklabels():
    lab.set_family(SANS)

fig.savefig("out.png", dpi=100)
